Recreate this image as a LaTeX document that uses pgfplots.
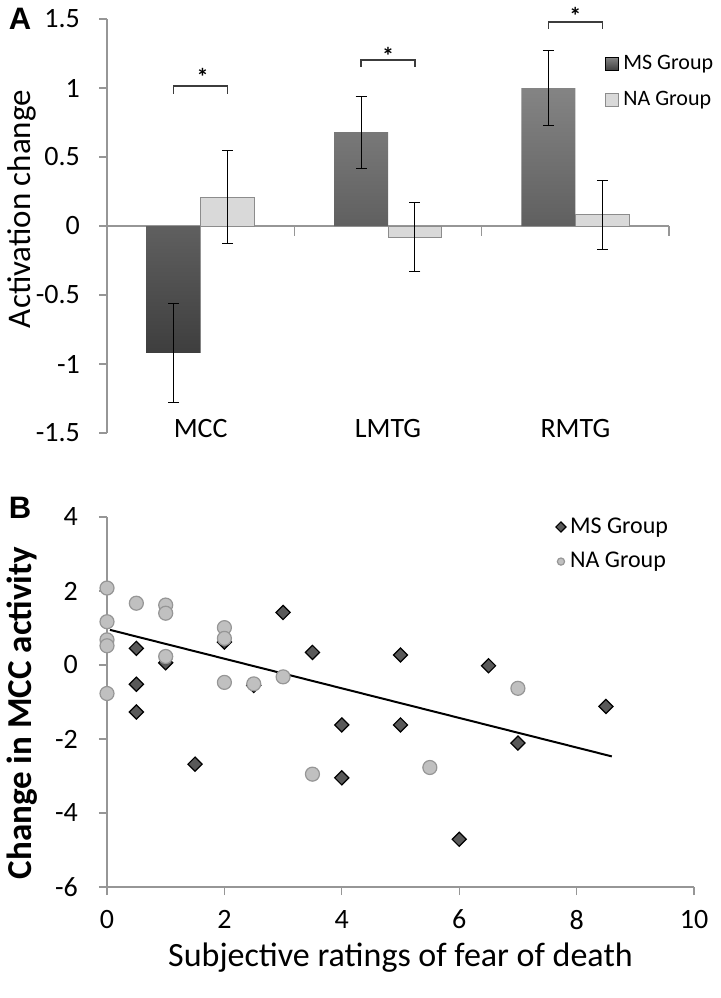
\documentclass[border=0pt]{standalone}
\usepackage{fontspec}
\setmainfont{Carlito}
\newfontfamily\arialfont{Liberation Sans}
\usepackage{pgfplots}
\pgfplotsset{compat=1.18}
\definecolor{axgray}{RGB}{150,150,150}
\definecolor{msdark}{RGB}{62,62,62}
\definecolor{mslight}{RGB}{132,132,132}
\definecolor{nafill}{RGB}{217,217,217}
\definecolor{naedge}{RGB}{140,140,140}
\definecolor{msmark}{RGB}{89,89,89}
\definecolor{namark}{RGB}{192,192,192}
\definecolor{brk}{RGB}{60,60,60}
\begin{document}
\begin{tikzpicture}
\path[use as bounding box] (0pt,0pt) rectangle (360pt,499pt);
\node[font=\arialfont\bfseries\fontsize{15.5}{17}\selectfont] at (10pt,489.5pt) {A};
\node[font=\arialfont\bfseries\fontsize{15.5}{17}\selectfont] at (10pt,245pt) {B};

\begin{axis}[
  at={(53.5pt,282.5pt)}, anchor=south west, scale only axis,
  width=281pt, height=207pt,
  xmin=-0.5, xmax=2.5, ymin=-1.5, ymax=1.5,
  axis x line*=bottom, axis y line*=left,
  axis line style={-},
  x axis line style={draw=none},
  y axis line style={axgray, line width=0.6pt},
  xtick={0,1,2}, xticklabels={MCC,LMTG,RMTG},
  ytick={-1.5,-1,-0.5,0,0.5,1,1.5},
  yticklabels={-1.5,-1,-0.5,0,0.5,1,1.5},
  tick align=outside, major tick length=4pt,
  xtick style={draw=none},
  ytick style={axgray, line width=0.6pt},
  yticklabel style={font=\fontsize{14}{16}\selectfont, xshift=-6pt},
  xticklabel style={font=\fontsize{14}{16}\selectfont, anchor=center, yshift=6pt},
  ylabel={Activation change},
  ylabel style={font=\fontsize{16.5}{18}\selectfont, at={(rel axis cs:-0.151,0.541)}, anchor=center},
  clip=false,
  legend style={at={(0.886,0.923)}, anchor=north west, draw=none, fill=none,
    font=\fontsize{11}{13}\selectfont, row sep=5.5pt, inner sep=0pt},
  legend cell align=left,
  legend image code/.code={\draw[#1] (0pt,-3.25pt) rectangle (6.5pt,3.25pt);},
]
\draw[axgray, line width=0.6pt] (axis cs:-0.5,0) -- (axis cs:2.5,0);
\draw[axgray, line width=0.6pt] (axis cs:0.5,0) -- ++(0pt,-5pt);
\draw[axgray, line width=0.6pt] (axis cs:1.5,0) -- ++(0pt,-5pt);
\draw[axgray, line width=0.6pt] (axis cs:2.5,0) -- ++(0pt,-5pt);

\addplot[ybar, bar width=0.288, bar shift=0, draw=none,
  top color=mslight, bottom color=msdark,
  error bars/.cd, y dir=both, y explicit,
  error bar style={draw=black, line width=0.5pt},
  error mark options={rotate=90, draw=black, mark size=2.75pt, line width=0.5pt}]
  coordinates {(-0.144,-0.92) +- (0,0.36) (0.856,0.68) +- (0,0.26) (1.856,1.00) +- (0,0.27)};
\addlegendentry{MS Group}
\addplot[ybar, bar width=0.288, bar shift=0, fill=nafill, draw=naedge, line width=0.5pt,
  error bars/.cd, y dir=both, y explicit,
  error bar style={draw=black, line width=0.5pt},
  error mark options={rotate=90, draw=black, mark size=2.75pt, line width=0.5pt}]
  coordinates {(0.144,0.21) +- (0,0.34) (1.144,-0.08) +- (0,0.25) (2.144,0.08) +- (0,0.25)};
\addlegendentry{NA Group}

\draw[brk, line width=0.75pt] (axis cs:-0.144,0.957) -- (axis cs:-0.144,1.014) -- (axis cs:0.144,1.014) -- (axis cs:0.144,0.957);
\draw[brk, line width=0.75pt] (axis cs:0.856,1.152) -- (axis cs:0.856,1.203) -- (axis cs:1.144,1.203) -- (axis cs:1.144,1.152);
\draw[brk, line width=0.75pt] (axis cs:1.856,1.428) -- (axis cs:1.856,1.478) -- (axis cs:2.144,1.478) -- (axis cs:2.144,1.428);
\node[font=\bfseries\fontsize{12}{14}\selectfont] at (axis cs:0.01,1.08) {*};
\node[font=\bfseries\fontsize{12}{14}\selectfont] at (axis cs:1.0,1.23) {*};
\node[font=\bfseries\fontsize{12}{14}\selectfont] at (axis cs:2.0,1.52) {*};
\end{axis}

\begin{axis}[
  at={(53.5pt,55.5pt)}, anchor=south west, scale only axis,
  width=293.5pt, height=185pt,
  xmin=0, xmax=10, ymin=-6, ymax=4,
  axis x line*=bottom, axis y line*=left,
  axis line style={-, axgray, line width=0.6pt},
  xtick={0,2,4,6,8,10}, xticklabels={0,2,4,6,8,10},
  ytick={-6,-4,-2,0,2,4}, yticklabels={-6,-4,-2,0,2,4},
  tick align=outside, major tick length=4pt,
  tick style={axgray, line width=0.6pt},
  yticklabel style={font=\fontsize{14}{16}\selectfont, xshift=-7pt},
  xticklabel style={font=\fontsize{14}{16}\selectfont, yshift=-4pt},
  xlabel={Subjective ratings of fear of death},
  xlabel style={font=\fontsize{17}{19}\selectfont, at={(rel axis cs:0.5,-0.192)}, anchor=center},
  ylabel={\bfseries Change in MCC activity},
  ylabel style={font=\fontsize{17.5}{19}\selectfont, at={(rel axis cs:-0.145,0.47)}, anchor=center},
  clip=false,
  legend style={at={(0.764,1.01)}, anchor=north west, draw=none, fill=none,
    font=\fontsize{12}{14}\selectfont, row sep=4pt, inner sep=0pt},
  legend cell align=left,
  legend image code/.code={\draw[#1, mark size=1.8pt] plot coordinates {(3pt,0pt)};},
]
\addplot[only marks, mark=square*, mark size=2.5pt, mark options={rotate=45, fill=msmark, draw=black, line width=0.6pt}]
  coordinates {(0.5,0.45) (0.5,-0.52) (0.5,-1.27) (1,0.06) (1.5,-2.68) (2,0.62) (2.5,-0.55)
  (3,1.42) (3.5,0.34) (4,-1.62) (4,-3.05) (5,0.27) (5,-1.62) (6,-4.71) (6.5,-0.02) (7,-2.11) (8.5,-1.12)};
\addlegendentry{MS Group}
\addplot[only marks, mark=*, mark size=3.5pt, mark options={fill=namark, draw=axgray, line width=0.6pt}]
  coordinates {(0,2.08) (0,1.17) (0,0.68) (0,0.52) (0,-0.77) (0.5,1.67) (1,1.62) (1,1.40) (1,0.23)
  (2,1.01) (2,0.72) (2,-0.47) (2.5,-0.51) (3,-0.32) (3.5,-2.95) (5.5,-2.77) (7,-0.63)};
\addlegendentry{NA Group}
\addplot[black, line width=1pt, forget plot] coordinates {(0.05,0.95) (8.6,-2.47)};
\end{axis}
\end{tikzpicture}
\end{document}
